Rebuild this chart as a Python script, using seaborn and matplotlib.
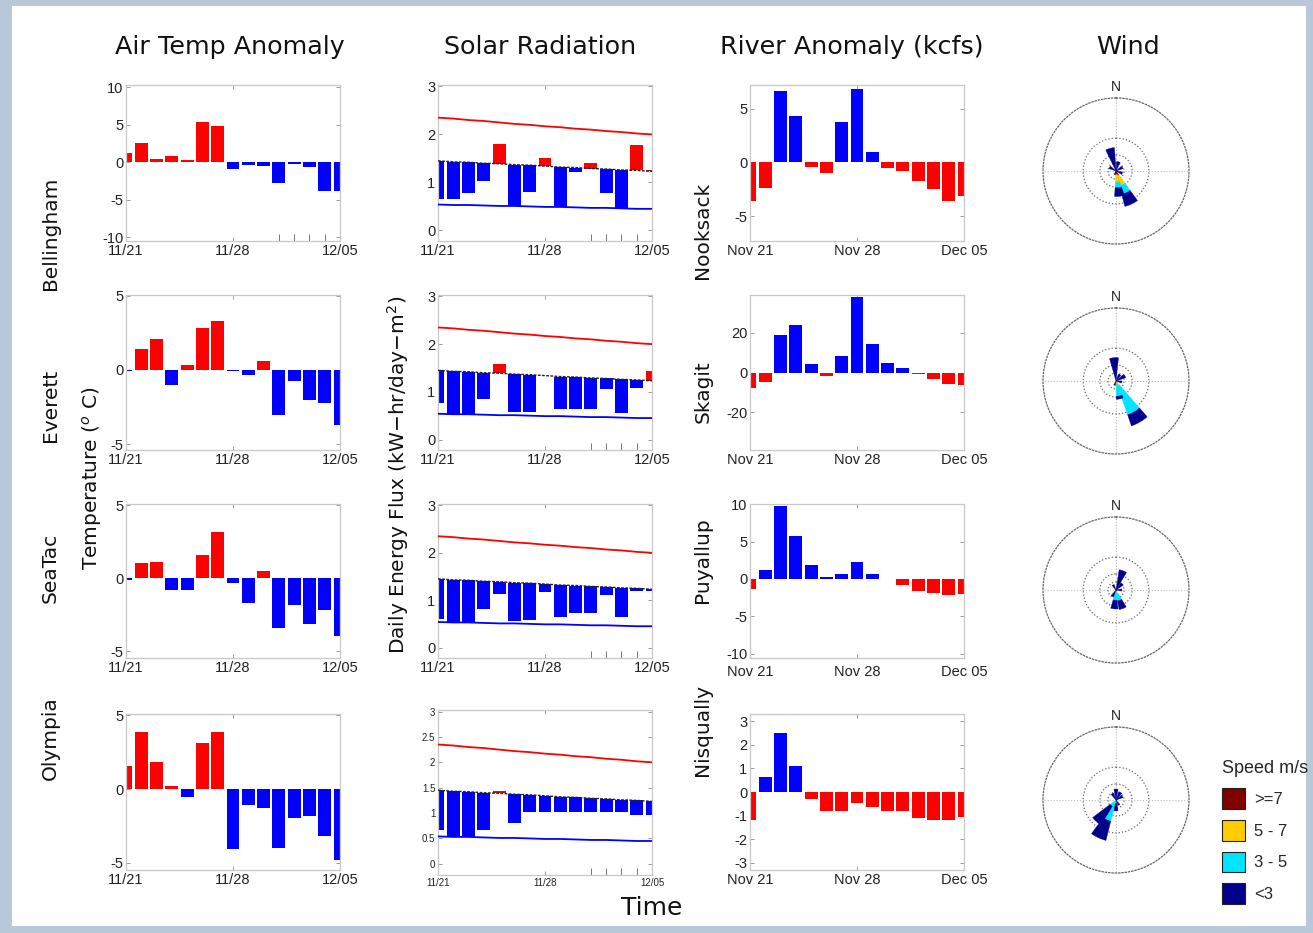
import numpy as np
import pandas as pd
import matplotlib
matplotlib.use("Agg")
import matplotlib.pyplot as plt
import seaborn as sns
from matplotlib.patches import Rectangle, Patch

# ---------------- data ----------------
days = list(range(15))
temp_ticklabels = ["11/21", "11/28", "12/05"]
river_ticklabels = ["Nov 21", "Nov 28", "Dec 05"]
stations = ["Bellingham", "Everett", "SeaTac", "Olympia"]
rivers = ["Nooksack", "Skagit", "Puyallup", "Nisqually"]

temp_bellingham = [1.2, 2.6, 0.4, 0.8, 0.3, 5.4, 4.9, -0.9, -0.3, -0.5, -2.8, -0.2, -0.6, -3.8, -3.8]
temp_everett = [-0.05, 1.4, 2.1, -1.0, 0.3, 2.8, 3.3, -0.1, -0.35, 0.6, -3.05, -0.75, -2.05, -2.2, -3.7]
temp_seatac = [-0.1, 1.05, 1.1, -0.8, -0.8, 1.6, 3.2, -0.3, -1.7, 0.5, -3.4, -1.8, -3.15, -2.15, -3.95]
temp_olympia = [1.6, 3.9, 1.85, 0.2, -0.55, 3.15, 3.9, -4.1, -1.1, -1.3, -4.0, -2.0, -1.85, -3.2, -4.85]

solar_max = [2.35, 2.33, 2.30, 2.28, 2.25, 2.22, 2.20, 2.17, 2.15, 2.12, 2.10, 2.07, 2.05, 2.02, 2.00]
solar_clim = [1.45, 1.43, 1.42, 1.40, 1.39, 1.37, 1.36, 1.34, 1.32, 1.31, 1.29, 1.28, 1.26, 1.25, 1.23]
solar_min = [0.54, 0.53, 0.53, 0.52, 0.51, 0.51, 0.50, 0.49, 0.49, 0.48, 0.47, 0.47, 0.46, 0.45, 0.45]

solar_bellingham = [0.65, 0.66, 0.79, 1.03, 1.81, 0.50, 0.80, 1.50, 0.48, 1.22, 1.40, 0.77, 0.45, 1.77, 1.25]
solar_everett = [0.77, 0.53, 0.53, 0.85, 1.58, 0.58, 0.58, 1.34, 0.63, 0.63, 0.63, 1.06, 0.55, 1.09, 1.43]
solar_seatac = [0.60, 0.53, 0.53, 0.81, 1.14, 0.57, 0.58, 1.17, 0.65, 0.74, 0.74, 1.10, 0.65, 1.20, 1.19]
solar_olympia = [0.67, 0.53, 0.53, 0.67, 1.43, 0.80, 1.02, 1.02, 1.02, 1.02, 1.02, 1.02, 1.02, 0.97, 0.97]

river_nooksack = [-3.6, -2.35, 6.6, 4.3, -0.45, -0.95, 3.8, 6.85, 1.0, -0.5, -0.8, -1.7, -2.5, -3.6, -3.1]
river_skagit = [-8.0, -5.0, 18.8, 23.8, 4.5, -1.7, 8.4, 37.8, 14.3, 5.0, 2.2, -1.0, -3.4, -5.9, -6.2]
river_puyallup = [-1.4, 1.2, 9.8, 5.8, 1.9, 0.2, 0.6, 2.3, 0.7, -0.05, -0.8, -1.6, -1.95, -2.1, -2.0]
river_nisqually = [-1.2, 0.65, 2.5, 1.1, -0.3, -0.8, -0.8, -0.45, -0.65, -0.8, -0.8, -1.1, -1.2, -1.2, -1.05]

speed_labels = [">=7", "5 - 7", "3 - 5", "<3"]
wind_bellingham = {"dirs": [345, 15, 60, 110, 155, 172, 200, 300],
                   "ge7": [0, 0, 0, 0, 0.07, 0.05, 0, 0],
                   "s57": [0, 0, 0, 0, 0.14, 0.10, 0, 0],
                   "s35": [0, 0, 0, 0, 0.12, 0.08, 0, 0],
                   "lt3": [0.32, 0.13, 0.10, 0.09, 0.17, 0.12, 0.05, 0.10]}
wind_everett = {"dirs": [355, 30, 60, 100, 150, 168, 200],
                "ge7": [0, 0, 0, 0, 0.02, 0, 0],
                "s57": [0, 0, 0, 0, 0.05, 0.03, 0],
                "s35": [0, 0, 0, 0, 0.42, 0.18, 0],
                "lt3": [0.32, 0.10, 0.14, 0.08, 0.16, 0.04, 0.06]}
wind_seatac = {"dirs": [20, 45, 90, 160, 185, 210, 330],
               "ge7": [0, 0, 0, 0.02, 0, 0, 0],
               "s57": [0, 0, 0, 0.03, 0.02, 0, 0],
               "s35": [0, 0, 0, 0.10, 0.12, 0, 0],
               "lt3": [0.28, 0.12, 0.08, 0.12, 0.12, 0.10, 0.08]}
wind_olympia = {"dirs": [0, 30, 60, 150, 180, 205, 222, 330],
                "ge7": [0, 0, 0, 0, 0, 0.02, 0, 0],
                "s57": [0, 0, 0, 0, 0, 0.03, 0, 0],
                "s35": [0, 0, 0, 0, 0.05, 0.25, 0.10, 0],
                "lt3": [0.15, 0.12, 0.10, 0.08, 0.10, 0.27, 0.30, 0.10]}

temps = [temp_bellingham, temp_everett, temp_seatac, temp_olympia]
solars = [solar_bellingham, solar_everett, solar_seatac, solar_olympia]
river_vals = [river_nooksack, river_skagit, river_puyallup, river_nisqually]
winds = [wind_bellingham, wind_everett, wind_seatac, wind_olympia]

# ---------------- style ----------------
sns.set_theme(style="white")
plt.rcParams["font.family"] = ["Liberation Sans", "DejaVu Sans"]

RED = "#ff0000"
BLUE = "#0000ff"
SPEED_COLORS = ["#800000", "#ffcc00", "#00e5ff", "#00008b"]

W, H = 1313, 933
fig = plt.figure(figsize=(W / 100, H / 100), dpi=100)
fig.patch.set_facecolor("#b9c8d8")
fig.patches.append(Rectangle((12 / W, 1 - 926 / H), (1306 - 12) / W, (926 - 6) / H,
                             transform=fig.transFigure, facecolor="white", edgecolor="none",
                             zorder=-10))


def rect(left, top, width, bottom):
    return [left / W, 1 - bottom / H, width / W, (bottom - top) / H]


rows_tb = [(85, 241), (295, 450), (504, 658), (714, 870)]


def style_axes(ax, xlabels, fs=10.5, minor=False):
    ax.set_xlim(0, 14)
    ax.set_xticks([0, 7, 14])
    ax.set_xticklabels(xlabels, fontsize=fs)
    ax.tick_params(axis="both", which="major", direction="in", top=True, right=True,
                   bottom=True, left=True, length=3, width=0.7, color="#999999",
                   labelsize=fs, labelcolor="#222222", pad=2)
    if minor:
        ax.set_xticks([10, 11, 12, 13], minor=True)
        ax.tick_params(axis="x", which="minor", direction="in", bottom=True, top=False,
                       length=5, width=0.7, color="#777777")
    for s in ax.spines.values():
        s.set_visible(True)
        s.set_color("#c8c8c8")
        s.set_linewidth(0.9)
    ax.set_xlabel("")
    ax.set_ylabel("")
    ax.set_facecolor("white")


def signed_bars(ax, vals, pos_color, neg_color):
    df = pd.DataFrame({"day": days, "val": vals})
    df["sign"] = np.where(df["val"] >= 0, "pos", "neg")
    sns.barplot(data=df, x="day", y="val", hue="sign", order=days,
                palette={"pos": pos_color, "neg": neg_color}, dodge=False,
                width=0.85, legend=False, saturation=1, ax=ax, edgecolor="none")


temp_ylims = [(-10.5, 10.3), (-5.4, 5.05), (-5.45, 5.1), (-5.5, 5.1)]
temp_yticks = [[-10, -5, 0, 5, 10], [-5, 0, 5], [-5, 0, 5], [-5, 0, 5]]
river_ylims = [(-7.3, 7.2), (-39, 39), (-10.6, 10.05), (-3.3, 3.3)]
river_yticks = [[-5, 0, 5], [-20, 0, 20], [-10, -5, 0, 5, 10], [-3, -2, -1, 0, 1, 2, 3]]

for i in range(4):
    top, bot = rows_tb[i]
    # --- air temperature ---
    ax = fig.add_axes(rect(126, top, 214, bot))
    signed_bars(ax, temps[i], RED, BLUE)
    style_axes(ax, temp_ticklabels, minor=(i == 0))
    ax.set_ylim(*temp_ylims[i])
    ax.set_yticks(temp_yticks[i])
    ax.set_yticklabels([str(t) for t in temp_yticks[i]])

    # --- solar radiation ---
    stop, sbot = (710, 875) if i == 3 else (top, bot)
    ax = fig.add_axes(rect(438, stop, 214, sbot))
    vals = np.array(solars[i])
    clim = np.array(solar_clim)
    cols = [RED if v > c else BLUE for v, c in zip(vals, clim)]
    ax.bar(days, vals - clim, bottom=clim, width=0.85, color=cols, edgecolor="none", zorder=2)
    sns.lineplot(x=days, y=solar_max, color=RED, linewidth=1.3, ax=ax, zorder=3)
    sns.lineplot(x=days, y=solar_min, color=BLUE, linewidth=1.3, ax=ax, zorder=3)
    sns.lineplot(x=days, y=solar_clim, color="#222222", linewidth=1.0, ax=ax, zorder=3,
                 linestyle=(0, (2, 1)))
    fs = 7 if i == 3 else 10.5
    style_axes(ax, temp_ticklabels, fs=fs, minor=True)
    ax.set_ylim(-0.22, 3.03)
    if i == 3:
        yt = [0, 0.5, 1, 1.5, 2, 2.5, 3]
        ax.set_yticks(yt)
        ax.set_yticklabels(["0", "0.5", "1", "1.5", "2", "2.5", "3"])
    else:
        ax.set_yticks([0, 1, 2, 3])
        ax.set_yticklabels(["0", "1", "2", "3"])

    # --- river anomaly ---
    ax = fig.add_axes(rect(750, top, 214, bot))
    signed_bars(ax, river_vals[i], BLUE, RED)
    style_axes(ax, river_ticklabels)
    if i == 2:
        ax.tick_params(axis="x", which="major", pad=5)
    ax.set_ylim(*river_ylims[i])
    ax.set_yticks(river_yticks[i])
    ax.set_yticklabels([str(t) for t in river_yticks[i]])

    # --- wind rose ---
    cy = [171, 381, 590, 800][i]
    r = 73
    ax = fig.add_axes([(1116 - r) / W, 1 - (cy + r) / H, 2 * r / W, 2 * r / H], projection="polar")
    wd = winds[i]
    theta = np.deg2rad(wd["dirs"])
    bottom = np.zeros(len(theta))
    for key, col in zip(["ge7", "s57", "s35", "lt3"], SPEED_COLORS):
        h = np.array(wd[key], dtype=float)
        ax.bar(theta, h, width=np.deg2rad(22), bottom=bottom, color=col,
               edgecolor=col, linewidth=0.3, zorder=3)
        bottom = bottom + h
    ax.set_theta_zero_location("N")
    ax.set_theta_direction(-1)
    ax.set_ylim(0, 1)
    ax.set_rgrids([0.11, 0.22, 0.45], labels=[])
    ax.set_thetagrids([0, 90, 180, 270], labels=[])
    ax.yaxis.grid(True, color="#666666", linestyle=":", linewidth=0.9)
    ax.xaxis.grid(True, color="#bbbbbb", linestyle=":", linewidth=0.8)
    ax.spines["polar"].set_linestyle(":")
    ax.spines["polar"].set_color("#666666")
    ax.spines["polar"].set_linewidth(0.9)
    ax.set_facecolor("white")
    ax.text(0, 1.15, "N", ha="center", va="center", fontsize=10, color="#222222")

# ---------------- texts ----------------
title_font = dict(family=["DejaVu Sans"], fontsize=18.3, color="#111111", ha="center", va="center")
fig.text(230 / W, 1 - 47 / H, "Air Temp Anomaly", **title_font)
fig.text(540 / W, 1 - 47 / H, "Solar Radiation", **title_font)
fig.text(852 / W, 1 - 47 / H, "River Anomaly (kcfs)", **title_font)
fig.text(1128 / W, 1 - 47 / H, "Wind", **title_font)

lab_font = dict(family=["DejaVu Sans"], fontsize=14.5, color="#111111", ha="center", va="center",
                rotation=90)
for name, y in zip(stations, [233, 405, 568, 738]):
    fig.text(50 / W, 1 - y / H, name, **lab_font)
for name, y in zip(rivers, [230, 392, 560, 730]):
    fig.text(703 / W, 1 - y / H, name, **lab_font)
fig.text(92 / W, 1 - 478 / H, r"Temperature ($^{o}$ C)", **lab_font)
fig.text(398 / W, 1 - 475 / H, r"Daily Energy Flux (kW$-$hr/day$-$m$^{2}$)", **lab_font)
fig.text(652 / W, 1 - 908 / H, "Time", family=["DejaVu Sans"], fontsize=18, color="#111111",
         ha="center", va="center")

handles = [Patch(facecolor=c, edgecolor="#222222", linewidth=0.8) for c in SPEED_COLORS]
leg = fig.legend(handles, speed_labels, loc="upper left", bbox_to_anchor=(1214 / W, 1 - 752 / H),
                 frameon=False, fontsize=12, title="Speed m/s", title_fontsize=13,
                 handlelength=1.38, handleheight=1.53, labelspacing=0.66, handletextpad=0.5,
                 borderpad=0.0, alignment="left")

fig.savefig("out.png", dpi=100, facecolor=fig.get_facecolor())
